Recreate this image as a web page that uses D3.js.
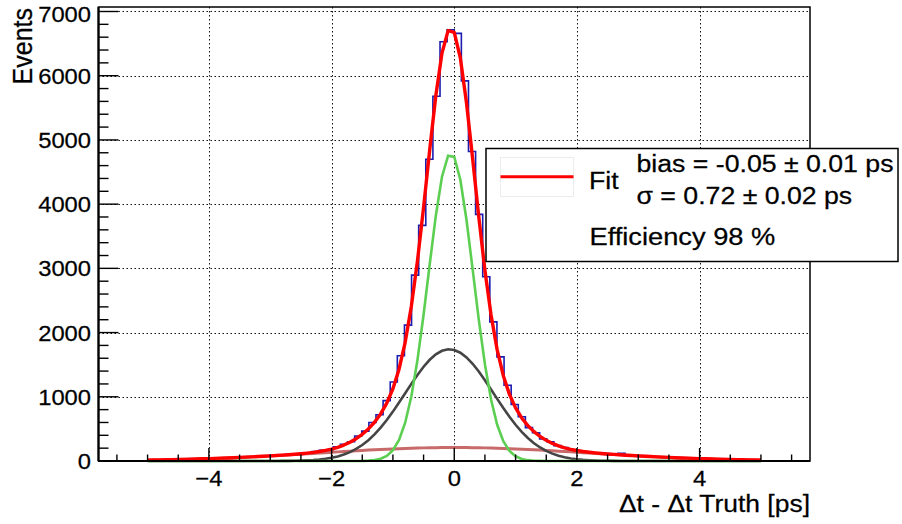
<!DOCTYPE html>
<html>
<head>
<meta charset="utf-8">
<script src="https://cdn.jsdelivr.net/npm/d3@7/dist/d3.min.js"></script>
<style>
  html, body { margin: 0; padding: 0; background: #fff; }
  svg { display: block; font-family: "Liberation Sans", Arial, Helvetica, sans-serif; }
  text { stroke: #000; stroke-width: 0.25px; }
</style>
</head>
<body>
<svg id="chart" width="902" height="524"></svg>
<script>
// histogram: 100 bins between -5.8 and 5.8 ps
const binLow = -5.8;
const binHigh = 5.8;
const binCounts = [
  0, 0, 0, 0, 0, 0, 0, 14, 17, 18,
  22, 24, 27, 29, 34, 36, 42, 44, 50, 52,
  60, 62, 71, 74, 84, 86, 98, 102, 110, 120,
  148, 165, 175, 220, 262, 300, 390, 465, 600, 720,
  940, 1230, 1640, 2116, 2895, 3670, 4700, 5680, 6530, 6715,
  6660, 5920, 4820, 3841, 2870, 2167, 1621, 1180, 880, 690,
  520, 440, 345, 300, 240, 210, 176, 160, 140, 128,
  122, 106, 100, 118, 86, 80, 77, 68, 66, 58,
  55, 48, 46, 40, 38, 33, 31, 26, 25, 21,
  19, 16, 15, 0, 0, 0, 0, 0, 0, 0
];

// fit components (amplitude in events, mean / sigma in ps)
const componentNames = ['core', 'tail', 'outlier'];
const componentAmp = [4790, 1740, 210];
const componentMean = [-0.055, -0.08, 0.0];
const componentSigma = [0.365, 0.72, 2.15];
const componentColors = ['#5ccf52', '#454545', 'rgba(190,80,80,0.85)'];
const fitRange = [-5, 5];

// axis ticks and texts
const xTicks = [-4, -2, 0, 2, 4];
const xTickLabels = ['\u22124', '\u22122', '0', '2', '4'];
const yTicks = [0, 1000, 2000, 3000, 4000, 5000, 6000, 7000];
const xTitle = '\u0394t - \u0394t Truth [ps]';
const yTitle = 'Events';
const legendFit = 'Fit';
const legendStats = ['bias = -0.05 \u00b1 0.01 ps', '\u03c3 = 0.72 \u00b1 0.02 ps'];
const legendEff = 'Efficiency 98 %';

const frame = { left: 98.5, right: 810, top: 7, bottom: 461 };
const svg = d3.select('#chart');

const x = d3.scaleLinear().domain([binLow, binHigh]).range([frame.left, frame.right]);
const y = d3.scaleLinear().domain([0, 7070]).range([frame.bottom, frame.top]);
const crisp = v => Math.round(v) + 0.5;

// text helper; the reference is a bit stretched horizontally
function addText(parent, px, py, str, size, anchor, sx) {
  return parent.append('text')
    .attr('transform', `translate(${px},${py}) scale(${sx},1)`)
    .attr('text-anchor', anchor)
    .attr('font-size', size)
    .attr('fill', '#000')
    .text(str);
}

// dotted grid
const grid = svg.append('g')
  .attr('stroke', '#111')
  .attr('stroke-width', 1)
  .attr('stroke-dasharray', '1.5,2.5');
grid.selectAll('.gx').data(xTicks).join('line')
  .attr('x1', d => crisp(x(d))).attr('x2', d => crisp(x(d)))
  .attr('y1', frame.top).attr('y2', frame.bottom);
grid.selectAll('.gy').data(yTicks.filter(d => d > 0)).join('line')
  .attr('x1', frame.left).attr('x2', frame.right)
  .attr('y1', d => crisp(y(d))).attr('y2', d => crisp(y(d)));

// histogram outline, one step per bin
const binWidth = (binHigh - binLow) / binCounts.length;
const histPts = binCounts.map((c, i) => [binLow + i * binWidth, c]);
histPts.push([binHigh, binCounts[binCounts.length - 1]]);
svg.append('path')
  .datum(histPts)
  .attr('fill', 'none')
  .attr('stroke', '#1c1cb0')
  .attr('stroke-width', 1.6)
  .attr('d', d3.line().x(d => x(d[0])).y(d => y(d[1])).curve(d3.curveStepAfter));

// fit drawn like a TF1 with 100 segments
const fitX = d3.range(0, 101).map(i => fitRange[0] + i * (fitRange[1] - fitRange[0]) / 100);
const gauss = (k, t) => componentAmp[k] * Math.exp(-0.5 * Math.pow((t - componentMean[k]) / componentSigma[k], 2));
const lineGen = d3.line().x(d => x(d[0])).y(d => y(d[1]));

const compOrder = [2, 1, 0];
compOrder.forEach(k => {
  svg.append('path')
    .datum(fitX.map(t => [t, gauss(k, t)]))
    .attr('class', 'comp-' + componentNames[k])
    .attr('fill', 'none')
    .attr('stroke', componentColors[k])
    .attr('stroke-width', k === 2 ? 3 : 2.6)
    .attr('d', lineGen);
});

svg.append('path')
  .datum(fitX.map(t => [t, componentAmp.reduce((s, a, k) => s + gauss(k, t), 0)]))
  .attr('fill', 'none')
  .attr('stroke', '#ff0000')
  .attr('stroke-width', 3.4)
  .attr('stroke-linejoin', 'round')
  .attr('d', lineGen);

// frame
svg.append('rect')
  .attr('x', frame.left).attr('y', frame.top)
  .attr('width', frame.right - frame.left).attr('height', frame.bottom - frame.top)
  .attr('fill', 'none').attr('stroke', '#000').attr('stroke-width', 1.5);
svg.append('line')
  .attr('x1', frame.left).attr('x2', frame.left)
  .attr('y1', frame.top).attr('y2', frame.bottom)
  .attr('stroke', '#000').attr('stroke-width', 2.2);
svg.append('line')
  .attr('x1', frame.left).attr('x2', frame.right)
  .attr('y1', frame.bottom).attr('y2', frame.bottom)
  .attr('stroke', '#000').attr('stroke-width', 2.2);

// ticks point inwards, root style
const ticks = svg.append('g').attr('stroke', '#000').attr('stroke-width', 1.4);
const xMinor = d3.range(-11, 12).map(i => i * 0.5);
ticks.selectAll('.tx').data(xMinor).join('line')
  .attr('x1', d => x(d)).attr('x2', d => x(d))
  .attr('y1', frame.bottom)
  .attr('y2', d => frame.bottom - (xTicks.includes(d) ? 13 : 6.5));
const yMinor = d3.range(0, 36).map(i => i * 200);
ticks.selectAll('.ty').data(yMinor).join('line')
  .attr('y1', d => y(d)).attr('y2', d => y(d))
  .attr('x1', frame.left)
  .attr('x2', d => frame.left + (yTicks.includes(d) ? 20 : 10));

// tick labels
xTicks.forEach((d, i) => addText(svg, x(d), 486, xTickLabels[i], 22, 'middle', 1.08));
yTicks.forEach(d => addText(svg, 91, Math.max(y(d), 14) + 8, d3.format('d')(d), 22, 'end', 1.08));

// axis titles
addText(svg, frame.right, 511.5, xTitle, 24.5, 'end', 1.08);
svg.append('text')
  .attr('transform', 'translate(31.5,8) rotate(-90) scale(1,1.12)')
  .attr('text-anchor', 'end')
  .attr('font-size', 25)
  .text(yTitle);

// legend box
const legend = svg.append('g');
legend.append('rect')
  .attr('x', 486).attr('y', 148.5).attr('width', 412).attr('height', 113)
  .attr('fill', '#fff').attr('stroke', '#000').attr('stroke-width', 1.5);
legend.append('rect')
  .attr('x', 500.5).attr('y', 157.5).attr('width', 73).attr('height', 39)
  .attr('fill', 'none').attr('stroke', '#ececec').attr('stroke-width', 1);
legend.append('line')
  .attr('x1', 500.5).attr('x2', 573.5).attr('y1', 176.7).attr('y2', 176.7)
  .attr('stroke', '#ff0000').attr('stroke-width', 3);
addText(legend, 589, 188.5, legendFit, 23, 'start', 1.16);
legendStats.forEach((s, i) => addText(legend, 636.5, 171.5 + i * 32, s, 23, 'start', 1.16));
addText(legend, 589.5, 244.5, legendEff, 23.5, 'start', 1.16);
</script>
</body>
</html>
